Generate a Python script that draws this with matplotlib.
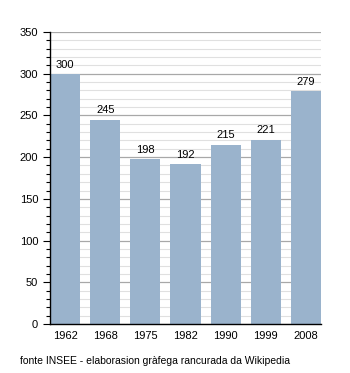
import numpy as np
import matplotlib
matplotlib.use("Agg")
import matplotlib.pyplot as plt
from matplotlib.ticker import MultipleLocator

# population by census year
years = ['1962', '1968', '1975', '1982', '1990', '1999', '2008']
population = [300, 245, 198, 192, 215, 221, 279]

plt.rcParams['font.family'] = ['Liberation Sans', 'DejaVu Sans']

fig = plt.figure(figsize=(3.5, 3.73), dpi=100)
ax = fig.add_axes([50/350, 49/373, 271/350, 292/373])

w = 0.75
x = np.arange(len(years))
ax.bar(x, population, width=w, color='#9ab3cc', zorder=3)
for xi, v in zip(x, population):
    ax.text(xi, v + 5, str(v), ha='center', va='bottom', fontsize=8, zorder=4)

ax.set_xlim(-w/2, len(years) - 1 + w/2)
ax.set_ylim(0, 350)
ax.set_xticks(x)
ax.set_xticklabels(years, fontsize=8)
ax.yaxis.set_major_locator(MultipleLocator(50))
ax.yaxis.set_minor_locator(MultipleLocator(10))
ax.tick_params(axis='y', labelsize=8, which='major', length=5, width=0.8)
ax.tick_params(axis='y', which='minor', length=3, width=0.8)
ax.tick_params(axis='x', length=0, pad=5)

ax.grid(which='minor', axis='y', color='#e0e0e0', linewidth=0.8, zorder=0)
ax.grid(which='major', axis='y', color='#a8a8a8', linewidth=0.9, zorder=1)

for s in ['top', 'right']:
    ax.spines[s].set_visible(False)
ax.spines['left'].set_linewidth(1.0)
ax.spines['bottom'].set_linewidth(1.0)
ax.spines['left'].set_zorder(5)
ax.spines['bottom'].set_zorder(5)

fig.text(20/350, 1 - 361/373, 'fonte INSEE - elaborasion gràfega rancurada da Wikipedia',
         fontsize=7.5, va='center', ha='left')

fig.savefig('out.png', dpi=100)
